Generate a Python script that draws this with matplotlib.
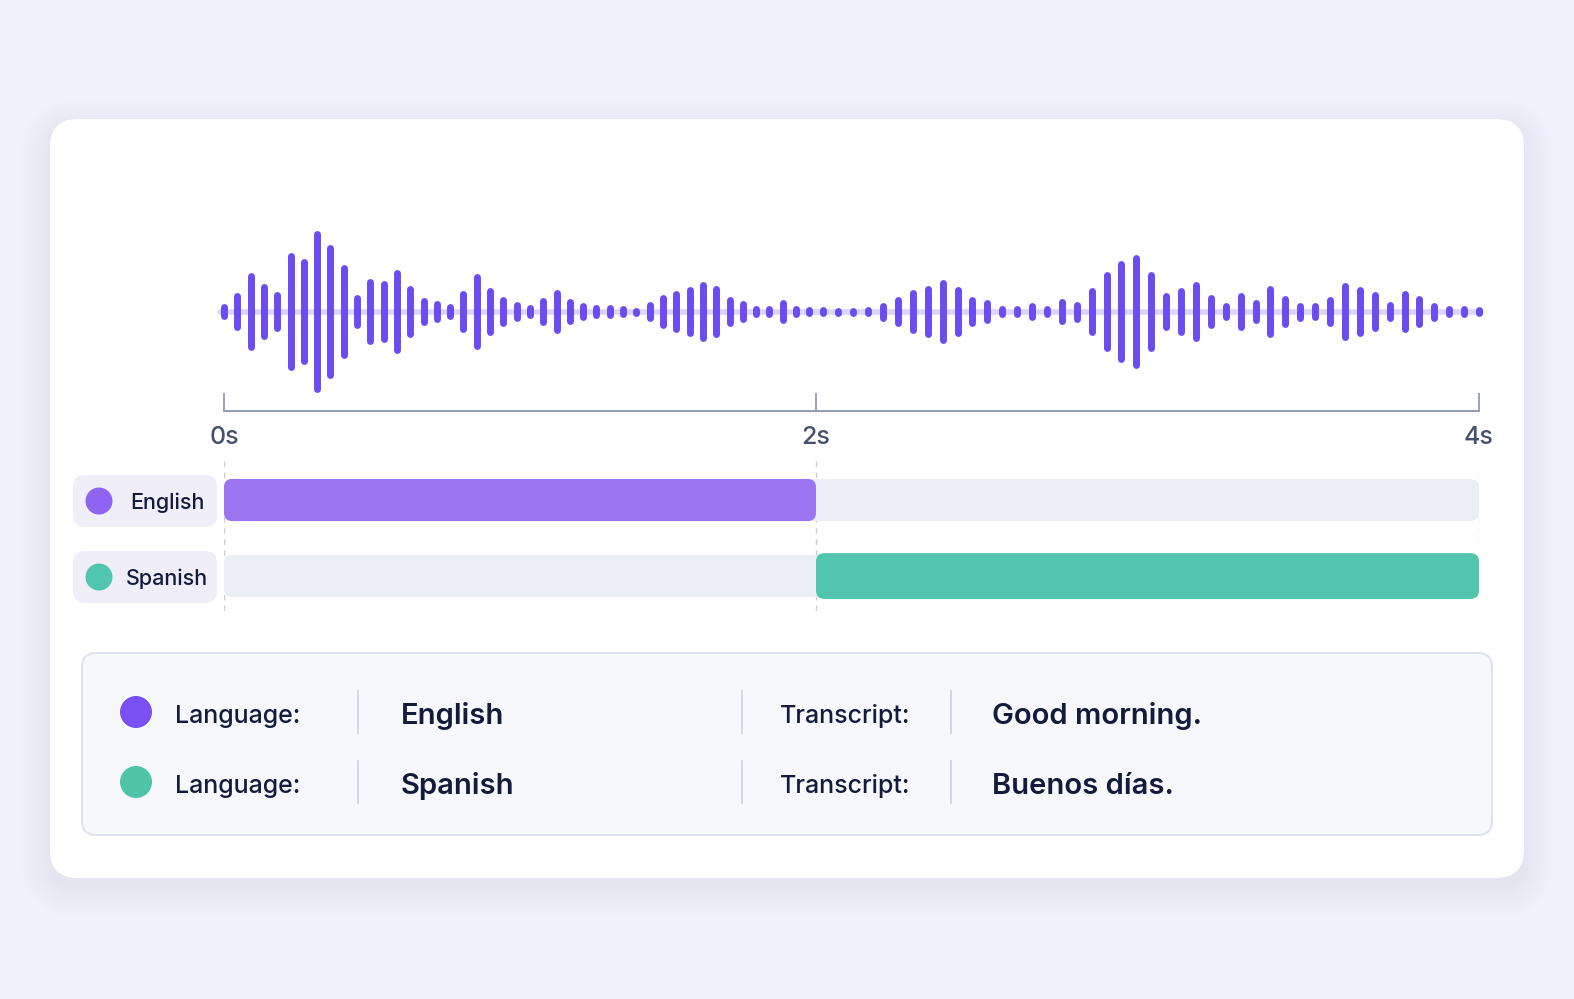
import numpy as np
import matplotlib
matplotlib.use('Agg')
import matplotlib.pyplot as plt
from matplotlib.patches import FancyBboxPatch, Circle

plt.rcParams['font.family'] = ['Inter', 'DejaVu Sans']
plt.rcParams['path.simplify'] = False

# ---------------- data ----------------
# waveform amplitudes (half-height, in px-like units) of each bar, read left to right
wave_amp = [8, 19, 39, 28, 20, 59, 53, 81, 67, 47, 17, 33, 31, 42, 26, 14, 11, 8, 21, 38, 24, 15, 10, 7,
            14, 22, 13, 9, 7, 7, 6, 3.5, 10, 17, 21, 25, 30, 26, 15, 11, 6, 6, 12, 6, 5, 5, 3, 3.5, 5, 9.5,
            15, 22, 26, 32, 25, 15, 12, 6, 6, 9, 6, 13, 10.5, 24, 40, 51, 57, 40, 19,
            24, 30, 17, 9, 19, 12, 26, 16, 9.5, 9, 15, 29, 25, 20, 10, 21, 16, 9.5, 6, 6, 5]
wave_end = 4.0                      # time of the last sample (s)
tick_times = [0, 2, 4]
tick_labels = ['0s', '2s', '4s']

languages = ['English', 'Spanish']
seg_start = [0.0, 2.0]
seg_end = [2.0, 4.0]
transcripts = ['Good morning.', 'Buenos días.']

# ---------------- style ----------------
W, H = 1574, 999
tick_px = [0, 592, 1255]            # visual spacing of the time ticks
BG = '#f1f0fd'
WAVE = '#6a4cf1'
LANG_COL = ['#9b74f1', '#52c5ae']
DOT_COL = ['#7a52f4', '#4fc3a8']
TRACK = '#eceef5'
NAVY = '#141a3c'
AXIS = '#8a92b0'


def _pw(v, xs, ys):
    v = np.asarray(v, float)
    s1 = (ys[1] - ys[0]) / (xs[1] - xs[0])
    s2 = (ys[2] - ys[1]) / (xs[2] - xs[1])
    return np.where(v <= xs[1], ys[0] + (v - xs[0]) * s1, ys[1] + (v - xs[1]) * s2)


def fwd(t):
    return _pw(t, tick_times, tick_px)


def inv(p):
    return _pw(p, tick_px, tick_times)


fig = plt.figure(figsize=(W / 100, H / 100), dpi=100, facecolor=BG)
bg = fig.add_axes([0, 0, 1, 1], zorder=0)
bg.set_xlim(0, W)
bg.set_ylim(H, 0)
bg.axis('off')


def fax(l, t, r, b, z=2):
    a = fig.add_axes([l / W, 1 - b / H, (r - l) / W, (b - t) / H], zorder=z)
    a.patch.set_alpha(0)
    return a


# card shadow + card
CX0, CY0, CW, CH = 50, 119, 1474, 759
for i in range(12):
    g = 1 + i * 2.5
    bg.add_patch(FancyBboxPatch((CX0 - g, CY0 - g + 10), CW + 2 * g, CH + 2 * g,
                                boxstyle=f"round,pad=0,rounding_size={28 + g}",
                                fc='#8479e0', ec='none', alpha=0.006))
bg.add_patch(FancyBboxPatch((CX0, CY0), CW, CH, boxstyle="round,pad=0,rounding_size=28",
                            fc='white', ec='none'))

# ---------------- waveform ----------------
AX_L, AX_R = 224, 1479
wax = fax(AX_L, 205, AX_R, 411)
wax.set_xscale('function', functions=(fwd, inv))
wax.set_xlim(0, 4)
wax.set_ylim(-99, 107)
for s in ['top', 'left', 'right']:
    wax.spines[s].set_visible(False)
wax.spines['bottom'].set_color(AXIS)
wax.spines['bottom'].set_linewidth(1.3)
wax.set_yticks([])
wax.set_xticks(tick_times)
wax.set_xticklabels(tick_labels)
wax.xaxis.set_minor_locator(matplotlib.ticker.NullLocator())
wax.tick_params(axis='x', direction='in', length=13, width=1.2, color=AXIS, pad=11,
                labelsize=18, labelcolor='#47516f')
for lb in wax.get_xticklabels():
    lb.set_fontweight('medium')

amp = np.asarray(wave_amp, float)
t = np.linspace(0, wave_end, len(amp))
cap = 3.5
wax.plot([-0.015, wave_end + 0.005], [0, 0], color='#d5cdfb', lw=4.0, alpha=0.85,
         solid_capstyle='round', clip_on=False, zorder=1)
h = np.maximum(amp - cap, 1.0)
lc = wax.vlines(t, -h, h, color=WAVE, lw=5.0, zorder=2, clip_on=False)
lc.set_capstyle('round')

# ---------------- language rows ----------------
rax = fax(AX_L, 457, AX_R, 611)
rax.set_xscale('function', functions=(fwd, inv))
rax.set_xlim(0, 4)
rax.set_ylim(1.46, -0.566)
rax.axis('off')
for tt in tick_times:
    rax.axvline(tt, color='#c7ccda', lw=1.0, ls=(0, (4, 4)), zorder=0)

rx = 0.027
bh = 0.553
for i, lang in enumerate(languages):
    rax.add_patch(FancyBboxPatch((tick_times[0], i - bh / 2), tick_times[-1] - tick_times[0], bh,
                                 boxstyle=f"round,pad=0,rounding_size={rx}",
                                 mutation_aspect=4.0, fc=TRACK, ec='none', zorder=1))
    hh = bh if i == 0 else bh + 0.05
    rax.add_patch(FancyBboxPatch((seg_start[i], i - hh / 2), seg_end[i] - seg_start[i], hh,
                                 boxstyle=f"round,pad=0,rounding_size={rx}",
                                 mutation_aspect=4.0, fc=LANG_COL[i], ec='none', zorder=2))

# label pills at left of rows
pill_y = [501, 577]
for i, lang in enumerate(languages):
    y = pill_y[i]
    bg.add_patch(FancyBboxPatch((73, y - 26), 144, 52, boxstyle="round,pad=0,rounding_size=12",
                                fc='#efeef9', ec='none', zorder=3))
    bg.add_patch(Circle((99, y), 13.5, fc=LANG_COL[i] if i == 1 else '#9064f2', ec='none', zorder=4))
    bg.text(130 if i == 0 else 126, y + 2, lang, fontsize=15.5, color=NAVY, va='center', ha='left',
            fontweight='medium', zorder=5)

# ---------------- info box ----------------
bg.add_patch(FancyBboxPatch((82, 653), 1410, 182, boxstyle="round,pad=0,rounding_size=14",
                            fc='#f7f8fc', ec='#dde1ee', lw=1.4, zorder=3))
row_y = [712, 782]
for i, lang in enumerate(languages):
    y = row_y[i]
    bg.add_patch(Circle((136, y), 16, fc=DOT_COL[i], ec='none', zorder=4))
    bg.text(175, y + 4, 'Language:', fontsize=18, color=NAVY, va='center', ha='left',
            fontweight='medium', zorder=5)
    bg.text(401, y + 4, lang, fontsize=21, color=NAVY, va='center', ha='left',
            fontweight='semibold', zorder=5)
    bg.text(780, y + 4, 'Transcript:', fontsize=18, color=NAVY, va='center', ha='left',
            fontweight='medium', zorder=5)
    bg.text(992, y + 4, transcripts[i], fontsize=21, color=NAVY, va='center', ha='left',
            fontweight='semibold', zorder=5)
    for sx in [358, 742, 951]:
        bg.plot([sx, sx], [y - 21, y + 21], color='#cdd1df', lw=1.2, zorder=4)

fig.savefig('out.png', dpi=100, facecolor=BG)
